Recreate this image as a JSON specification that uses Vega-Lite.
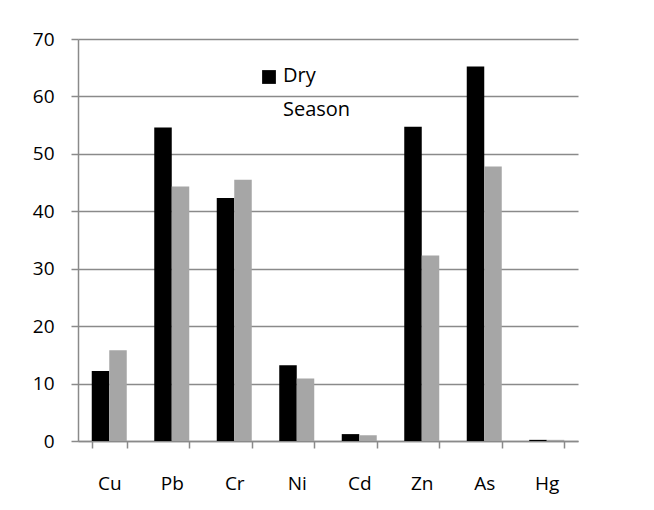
{
  "$schema": "https://vega.github.io/schema/vega-lite/v6.json",
  "width": 500,
  "height": 402,
  "autosize": {"type": "none"},
  "padding": {"left": 78, "top": 39, "right": 76, "bottom": 69},
  "background": "white",
  "config": {
    "font": "Open Sans",
    "view": {"stroke": null}
  },
  "data": {
    "values": [
      {"metal": "Cu", "season": "Dry Season", "value": 12.2},
      {"metal": "Cu", "season": "Wet Season", "value": 15.8},
      {"metal": "Pb", "season": "Dry Season", "value": 54.6},
      {"metal": "Pb", "season": "Wet Season", "value": 44.3},
      {"metal": "Cr", "season": "Dry Season", "value": 42.3},
      {"metal": "Cr", "season": "Wet Season", "value": 45.5},
      {"metal": "Ni", "season": "Dry Season", "value": 13.2},
      {"metal": "Ni", "season": "Wet Season", "value": 10.9},
      {"metal": "Cd", "season": "Dry Season", "value": 1.2},
      {"metal": "Cd", "season": "Wet Season", "value": 1.0},
      {"metal": "Zn", "season": "Dry Season", "value": 54.7},
      {"metal": "Zn", "season": "Wet Season", "value": 32.3},
      {"metal": "As", "season": "Dry Season", "value": 65.2},
      {"metal": "As", "season": "Wet Season", "value": 47.8},
      {"metal": "Hg", "season": "Dry Season", "value": 0.2},
      {"metal": "Hg", "season": "Wet Season", "value": 0.2}
    ]
  },
  "mark": {"type": "bar"},
  "encoding": {
    "x": {
      "field": "metal",
      "type": "nominal",
      "sort": null,
      "scale": {"paddingInner": 0.44, "paddingOuter": 0.22},
      "axis": {
        "title": null,
        "labelAngle": 0,
        "labelFont": "Open Sans",
        "labelFontSize": 19,
        "labelColor": "#000000",
        "tickBand": "extent",
        "tickColor": "#8a8a8a",
        "tickWidth": 1.5,
        "tickSize": 7,
        "domainColor": "#8a8a8a",
        "domainWidth": 1.5,
        "labelPadding": 26
      }
    },
    "xOffset": {"field": "season", "type": "nominal"},
    "y": {
      "field": "value",
      "type": "quantitative",
      "scale": {"domain": [0, 70], "nice": false},
      "axis": {
        "title": null,
        "values": [0, 10, 20, 30, 40, 50, 60, 70],
        "labelFont": "Open Sans",
        "labelFontSize": 19,
        "labelColor": "#000000",
        "gridColor": "#8a8a8a",
        "gridWidth": 1.5,
        "tickColor": "#8a8a8a",
        "tickWidth": 1.5,
        "tickSize": 7,
        "domainColor": "#8a8a8a",
        "domainWidth": 1.5,
        "labelPadding": 17
      }
    },
    "color": {
      "field": "season",
      "type": "nominal",
      "scale": {"domain": ["Dry Season", "Wet Season"], "range": ["#000000", "#a6a6a6"]},
      "legend": {
        "title": null,
        "orient": "none",
        "legendX": 181,
        "legendY": 28,
        "values": ["Dry Season"],
        "symbolType": "square",
        "symbolSize": 190,
        "symbolStrokeWidth": 0,
        "labelFontSize": 20,
        "labelFont": "Open Sans",
        "labelColor": "#000000",
        "labelBaseline": "top",
        "labelOffset": 4,
        "labelExpr": "['Dry', 'Season']",
        "encode": {
          "labels": {"update": {"lineHeight": {"value": 34}, "dy": {"value": -11}}}
        }
      }
    }
  }
}
